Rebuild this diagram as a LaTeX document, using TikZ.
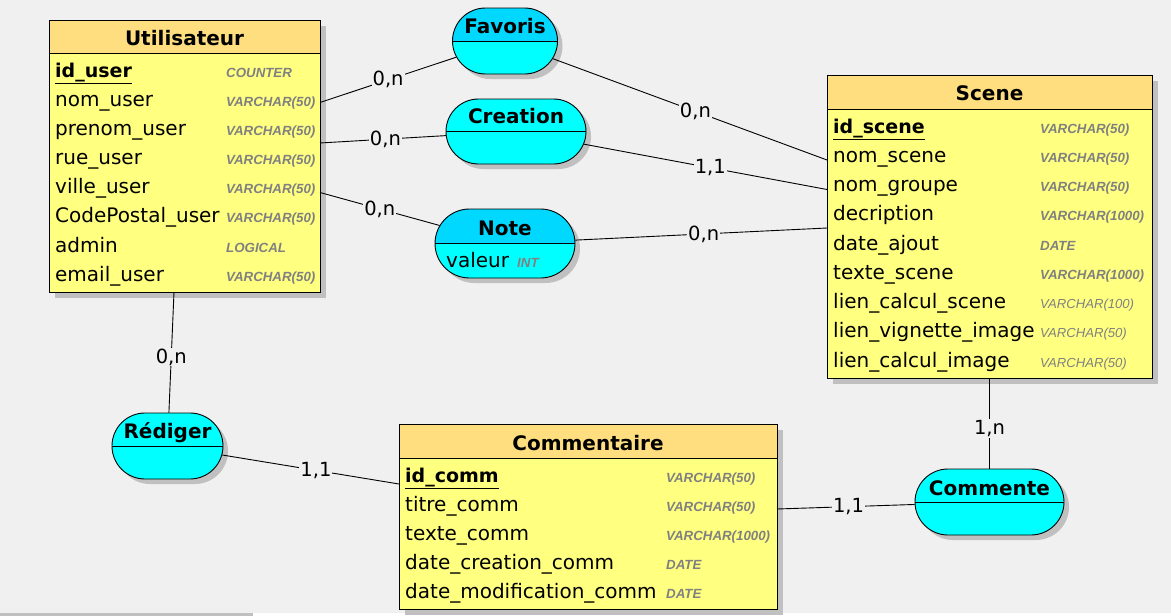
\documentclass[tikz,border=0pt]{standalone}
\usepackage{fontspec}
\setmainfont{DejaVu Sans}
\newfontfamily\typefont{Liberation Sans}
\usetikzlibrary{shapes.misc,shadows}
\definecolor{bg}{HTML}{F0F0F0}
\definecolor{enthead}{RGB}{255,222,128}
\definecolor{entbody}{RGB}{255,255,128}
\definecolor{ashead}{RGB}{0,216,255}
\definecolor{asbody}{RGB}{0,255,255}
\definecolor{shadowgray}{RGB}{192,192,192}
\definecolor{typegray}{RGB}{128,128,128}
\tikzset{
  ent/.style={draw=black, line width=0.9pt, fill=entbody, anchor=north west, inner sep=0pt,
    drop shadow={shadow xshift=6pt, shadow yshift=-6pt, fill=shadowgray, opacity=1},
    path picture={\fill[enthead] (path picture bounding box.north west) rectangle ([yshift=-#1]path picture bounding box.north east);
      \draw[line width=0.9pt] ([yshift=-#1]path picture bounding box.north west) -- ([yshift=-#1]path picture bounding box.north east);}},
  assoc/.style={rounded rectangle, draw=black, line width=0.9pt, fill=asbody, inner sep=0pt,
    drop shadow={shadow xshift=5pt, shadow yshift=-5pt, fill=shadowgray, opacity=1},
    path picture={\fill[#1] (path picture bounding box.north west) rectangle (path picture bounding box.east);
      \draw[line width=0.9pt] (path picture bounding box.west) -- (path picture bounding box.east);}},
  ttl/.style={anchor=base, inner sep=0pt, font=\fontsize{20}{24}\selectfont\bfseries},
  attr/.style={anchor=base west, inner sep=0pt, font=\fontsize{20}{24}\selectfont},
  pkey/.style={anchor=base west, inner sep=0pt, font=\fontsize{19}{24}\selectfont\bfseries},
  typ/.style={anchor=base west, inner sep=0pt, text=typegray, font=\typefont\fontsize{13.3}{16}\selectfont\bfseries\itshape},
  typl/.style={anchor=base west, inner sep=0pt, text=typegray, font=\typefont\fontsize{13.1}{16}\selectfont\itshape},
  card/.style={fill=bg, inner sep=1pt, font=\fontsize{19.5}{22}\selectfont},
  link/.style={draw=black, line width=0.9pt}
}
\begin{document}
\begin{tikzpicture}[x=1pt,y=-1pt]
\useasboundingbox (0,0) rectangle (1171,616);
\fill[bg] (0,0) rectangle (1171,616);
\fill[white] (0,613) rectangle (1171,616);
\fill[shadowgray] (0,613) rectangle (253,616);

% ---------- Entities ----------
\node[ent=33pt, minimum width=271pt, minimum height=272pt] (user) at (49,20) {};
\node[ttl] (tuser) at (184.5,45) {Utilisateur};
\node[pkey] (u0) at (55,77) {\underline{id\_user}};
\node[attr] (u1t) at (55,106) {nom\_user};
\node[attr] (u2t) at (55,135) {prenom\_user};
\node[attr] (u3t) at (55,164) {rue\_user};
\node[attr] (u4t) at (55,193.5) {ville\_user};
\node[attr] (u5t) at (55,222.5) {CodePostal\_user};
\node[attr] (u6t) at (55,252) {admin};
\node[attr] (u7t) at (55,281) {email\_user};
\node[typ] (ut0) at (226,77) {COUNTER};
\node[typ] (ut1) at (226,106) {VARCHAR(50)};
\node[typ] (ut2) at (226,135) {VARCHAR(50)};
\node[typ] (ut3) at (226,164) {VARCHAR(50)};
\node[typ] (ut4) at (226,193.5) {VARCHAR(50)};
\node[typ] (ut5) at (226,222.5) {VARCHAR(50)};
\node[typ] (ut6) at (226,252) {LOGICAL};
\node[typ] (ut7) at (226,281) {VARCHAR(50)};

\node[ent=34pt, minimum width=325pt, minimum height=303pt] (scene) at (827,75) {};
\node[ttl] (tscene) at (989.5,100) {Scene};
\node[pkey] (s0) at (833,133) {\underline{id\_scene}};
\node[attr] (s1t) at (833,162.25) {nom\_scene};
\node[attr] (s2t) at (833,191.5) {nom\_groupe};
\node[attr] (s3t) at (833,220.75) {decription};
\node[attr] (s4t) at (833,250) {date\_ajout};
\node[attr] (s5t) at (833,279.25) {texte\_scene};
\node[attr] (s6t) at (833,308.5) {lien\_calcul\_scene};
\node[attr] (s7t) at (833,337.75) {lien\_vignette\_image};
\node[attr] (s8t) at (833,367) {lien\_calcul\_image};
\node[typ] (st0) at (1040,133) {VARCHAR(50)};
\node[typ] (st1) at (1040,162.25) {VARCHAR(50)};
\node[typ] (st2) at (1040,191.5) {VARCHAR(50)};
\node[typ] (st3) at (1040,220.75) {VARCHAR(1000)};
\node[typ] (st4) at (1040,250) {DATE};
\node[typ] (st5) at (1040,279.25) {VARCHAR(1000)};
\node[typl] (st6) at (1040,308.5) {VARCHAR(100)};
\node[typl] (st7) at (1040,337.75) {VARCHAR(50)};
\node[typl] (st8) at (1040,367) {VARCHAR(50)};

\node[ent=34pt, minimum width=378pt, minimum height=185pt] (comm) at (399,424) {};
\node[ttl] (tcomm) at (588,450) {Commentaire};
\node[pkey] (c0) at (405,482) {\underline{id\_comm}};
\node[attr] (c1t) at (405,511) {titre\_comm};
\node[attr] (c2t) at (405,540) {texte\_comm};
\node[attr] (c3t) at (405,569) {date\_creation\_comm};
\node[attr] (c4t) at (405,598) {date\_modification\_comm};
\node[typ] (ct0) at (666,482) {VARCHAR(50)};
\node[typ] (ct1) at (666,511) {VARCHAR(50)};
\node[typ] (ct2) at (666,540) {VARCHAR(1000)};
\node[typ] (ct3) at (666,569) {DATE};
\node[typ] (ct4) at (666,598) {DATE};

% ---------- Associations ----------
\node[assoc=ashead, minimum width=105pt, minimum height=66pt] (fav) at (505,41) {};
\node[ttl] (tfav) at (505,33) {Favoris};
\node[assoc=asbody, minimum width=140pt, minimum height=65pt] (crea) at (516,131.5) {};
\node[ttl] (tcrea) at (516,123) {Creation};
\node[assoc=ashead, minimum width=140pt, minimum height=69pt] (note) at (505,243.5) {};
\node[ttl] (tnote) at (505,235) {Note};
\node[attr] (nval) at (446,267) {valeur};
\node[typ] (nint) at (517,267) {INT};
\node[assoc=asbody, minimum width=111pt, minimum height=66pt] (red) at (167.5,446) {};
\node[ttl] (tred) at (167.5,438) {Rédiger};
\node[assoc=asbody, minimum width=149pt, minimum height=66pt] (comt) at (989.5,502) {};
\node[ttl] (tcomt) at (989.5,495) {Commente};

% ---------- Connector ends on entities ----------
\coordinate (pu1) at (320,102.5);
\coordinate (pu2) at (320,143);
\coordinate (pu3) at (320,192.5);
\coordinate (pu4) at (174,292);
\coordinate (ps1) at (827,160);
\coordinate (ps2) at (827,189.5);
\coordinate (ps3) at (827,228);
\coordinate (ps4) at (989.5,378);
\coordinate (pc1) at (399,484);
\coordinate (pc2) at (777,509);

% ---------- Connectors ----------
\draw[link] (pu1) -- node[card, pos=0.5] (l1) {0,n} (fav);
\draw[link] (pu2) -- node[card, pos=0.52] (l2) {0,n} (crea);
\draw[link] (pu3) -- node[card, pos=0.5] (l3) {0,n} (note);
\draw[link] (fav) -- node[card, pos=0.52] (l4) {0,n} (ps1);
\draw[link] (crea) -- node[card, pos=0.52] (l5) {1,1} (ps2);
\draw[link] (note) -- node[card, pos=0.51] (l6) {0,n} (ps3);
\draw[link] (pu4) -- node[card, pos=0.54] (l7) {0,n} (red);
\draw[link] (red) -- node[card, pos=0.53] (l8) {1,1} (pc1);
\draw[link] (pc2) -- node[card, pos=0.52] (l9) {1,1} (comt);
\draw[link] (ps4) -- node[card, pos=0.56] (l10) {1,n} (comt);
\end{tikzpicture}
\end{document}
